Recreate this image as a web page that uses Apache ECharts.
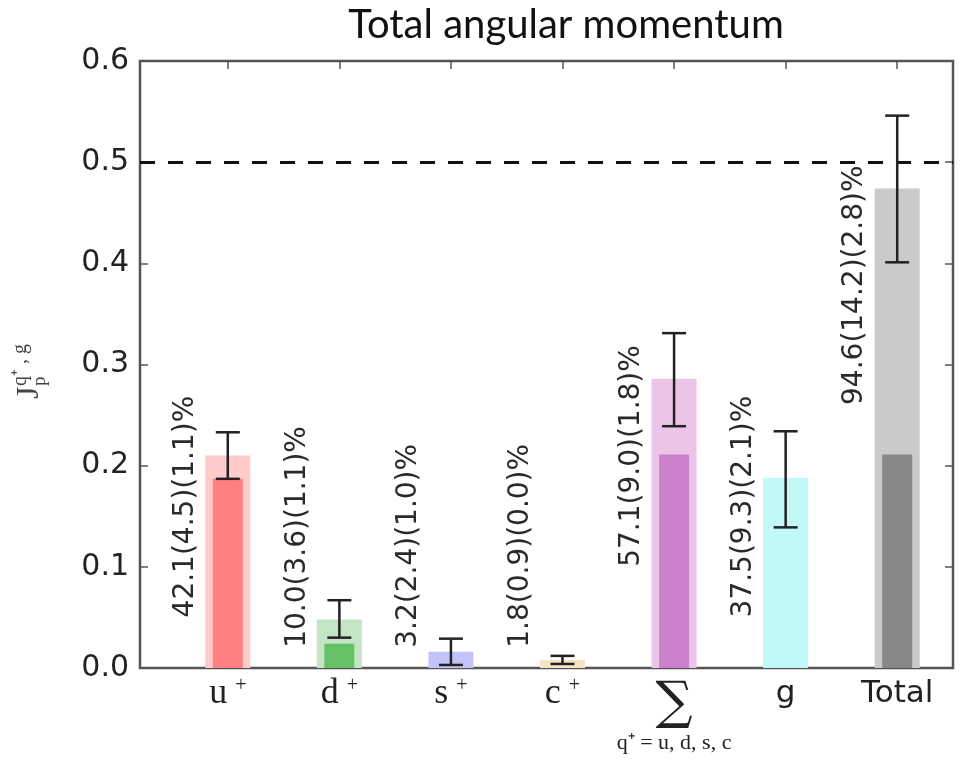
<!DOCTYPE html>
<html>
<head>
<meta charset="utf-8">
<script src="https://cdn.jsdelivr.net/npm/echarts@6/dist/echarts.min.js"></script>
<style>
  html, body { margin: 0; padding: 0; background: #fff; }
  #chart { width: 961px; height: 759px; }
</style>
</head>
<body>
<div id="chart"></div>
<script>
// categories along the bottom
const categories = ['u⁺', 'd⁺', 's⁺', 'c⁺', '∑', 'g', 'Total'];
// full bar height (light) and inner part (dark)
const outerValues = [0.210, 0.048, 0.016, 0.008, 0.286, 0.188, 0.474];
const innerValues = [0.187, 0.024, 0, 0, 0.211, 0, 0.211];
// error bar ends
const errLow  = [0.187, 0.030, 0.003, 0.004, 0.239, 0.139, 0.401];
const errHigh = [0.233, 0.067, 0.029, 0.012, 0.331, 0.234, 0.546];
// rotated percentage labels and where they start
const pctLabels = ['42.1(4.5)(1.1)%', '10.0(3.6)(1.1)%', '3.2(2.4)(1.0)%', '1.8(0.9)(0.0)%',
  '57.1(9.0)(1.8)%', '37.5(9.3)(2.1)%', '94.6(14.2)(2.8)%'];
const labelStart = [0.05, 0.02, 0.02, 0.02, 0.10, 0.05, 0.26];
const refLine = 0.5;

const outerColors = ['#ffcaca', '#c4e5c4', '#c3c3fa', '#f6e4c6', '#ecc4e8', '#c2f8f8', '#cacaca'];
const innerColors = ['#ff8080', '#66c066', '#c3c3fa', '#f6e4c6', '#cc80cc', '#c2f8f8', '#888888'];

const el = document.getElementById('chart');
const chart = echarts.init(el);

const sans = 'DejaVu Sans';
const serif = 'Liberation Serif';

function catLabel(v) {
  if (v === '∑') return '{sig|∑}\n{sub|q⁺ = u, d, s, c}';
  if (v === 'Total') return '{tot|Total}';
  if (v === 'g') return '{tot|g}';
  return '{m|' + v.charAt(0) + '}{s|+}';
}

chart.setOption({
  animation: false,
  graphic: [
    { type: 'text', x: 566, y: 5, style: { text: 'Total angular momentum', fontSize: 40, fontFamily: 'Lato', fill: '#111', align: 'center' } },
    { type: 'group', x: 30, y: 368, rotation: Math.PI / 2, children: [
      { type: 'text', x: -31, y: 0, style: { text: 'J', fontSize: 32, fontFamily: serif, fill: '#444', verticalAlign: 'middle' } },
      { type: 'text', x: -18, y: -9, style: { text: 'q⁺ , g', fontSize: 20, fontFamily: serif, fill: '#444', verticalAlign: 'middle' } },
      { type: 'text', x: -18, y: 10, style: { text: 'p', fontSize: 19, fontFamily: serif, fill: '#444', verticalAlign: 'middle' } }
    ] }
  ],
  grid: [
    { left: 140, right: 8, top: 61, bottom: 91, show: true, borderColor: '#555', borderWidth: 2.5, backgroundColor: 'transparent' },
    { left: 172, right: 8, top: 61, bottom: 91 }
  ],
  xAxis: [
    { gridIndex: 0, type: 'value', min: 0, max: 1, show: false },
    { gridIndex: 1, type: 'category', data: categories, position: 'bottom',
      axisLine: { show: false },
      axisTick: { show: true, inside: true, alignWithLabel: true, length: 8, lineStyle: { color: '#555', width: 1.5 } },
      axisLabel: { interval: 0, hideOverlap: false, margin: 8, formatter: catLabel, rich: {
        m: { fontFamily: serif, fontSize: 36, color: '#222', lineHeight: 36 },
        s: { fontFamily: serif, fontSize: 20, color: '#222', verticalAlign: 'top', padding: [0, 0, 0, 8], lineHeight: 36 },
        tot: { fontFamily: sans, fontSize: 31, color: '#222', lineHeight: 36 },
        sig: { fontFamily: 'DejaVu Serif', fontSize: 52, color: '#222', lineHeight: 56 },
        sub: { fontFamily: serif, fontSize: 22, color: '#222', lineHeight: 22 }
      } } },
    { gridIndex: 1, type: 'category', data: categories, position: 'top',
      axisLine: { show: false },
      axisTick: { show: true, inside: true, alignWithLabel: true, length: 8, lineStyle: { color: '#555', width: 1.5 } },
      axisLabel: { show: false } }
  ],
  yAxis: [
    { gridIndex: 0, type: 'value', min: 0, max: 0.6, interval: 0.1, position: 'left',
      axisLine: { show: false }, splitLine: { show: false },
      axisTick: { show: true, inside: true, length: 8, lineStyle: { color: '#555', width: 1.5 } },
      axisLabel: { margin: 11, fontFamily: sans, fontSize: 30, color: '#222', formatter: v => v.toFixed(1) } },
    { gridIndex: 0, type: 'value', min: 0, max: 0.6, interval: 0.1, position: 'right',
      axisLine: { show: false }, splitLine: { show: false },
      axisTick: { show: true, inside: true, length: 8, lineStyle: { color: '#555', width: 1.5 } },
      axisLabel: { show: false } },
    { gridIndex: 1, type: 'value', min: 0, max: 0.6, show: false }
  ],
  series: [
    { type: 'line', xAxisIndex: 0, yAxisIndex: 0, data: [], silent: true,
      markLine: { symbol: 'none', silent: true, label: { show: false },
        lineStyle: { color: '#111', width: 3, type: [15, 13] },
        data: [{ yAxis: refLine }] } },
    { type: 'bar', xAxisIndex: 1, yAxisIndex: 2, barWidth: 45,
      data: outerValues.map((v, i) => ({ value: v, itemStyle: { color: outerColors[i] } })) },
    { type: 'bar', xAxisIndex: 2, yAxisIndex: 2, barWidth: 30,
      data: innerValues.map((v, i) => ({ value: v, itemStyle: { color: innerColors[i] } })) },
    { type: 'custom', xAxisIndex: 1, yAxisIndex: 2, z: 5,
      data: categories.map((c, i) => [i, errLow[i], errHigh[i]]),
      renderItem: function (params, api) {
        const lo = api.coord([api.value(0), api.value(1)]);
        const hi = api.coord([api.value(0), api.value(2)]);
        const cap = 12;
        const st = { stroke: '#222', lineWidth: 2.5 };
        return { type: 'group', children: [
          { type: 'line', shape: { x1: lo[0], y1: lo[1], x2: hi[0], y2: hi[1] }, style: st },
          { type: 'line', shape: { x1: lo[0] - cap, y1: lo[1], x2: lo[0] + cap, y2: lo[1] }, style: st },
          { type: 'line', shape: { x1: hi[0] - cap, y1: hi[1], x2: hi[0] + cap, y2: hi[1] }, style: st }
        ] };
      } },
    { type: 'custom', xAxisIndex: 1, yAxisIndex: 2, z: 6,
      data: categories.map((c, i) => [i, labelStart[i]]),
      renderItem: function (params, api) {
        const p = api.coord([api.value(0), api.value(1)]);
        return { type: 'text', x: p[0] - 42, y: p[1], rotation: Math.PI / 2,
          style: { text: pctLabels[params.dataIndex], fontSize: 28, fontFamily: sans, fill: '#2a2a2a', align: 'left', verticalAlign: 'middle' } };
      } }
  ]
});
</script>
</body>
</html>
